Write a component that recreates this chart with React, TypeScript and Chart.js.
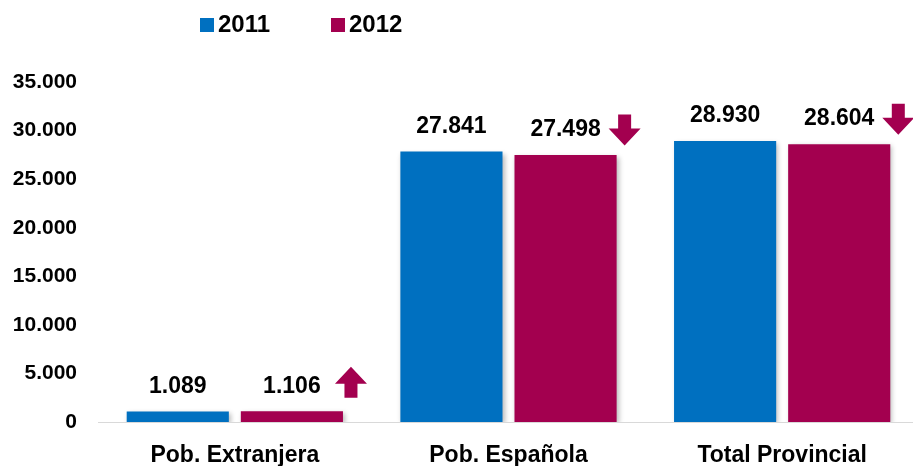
import React, { useEffect, useRef } from "react";
import { Chart, registerables } from "chart.js";

Chart.register(...registerables);

const categories = ["Pob. Extranjera", "Pob. Española", "Total Provincial"];
const series2011 = [1089, 27841, 28930];
const series2012 = [1106, 27498, 28604];
const trend2012 = ["up", "down", "down"];
const seriesNames = ["2011", "2012"];
const colors = ["#0070C0", "#A3004F"];

const FONT = "'Liberation Sans', Arial, sans-serif";

const fmt = (v: number) => String(Math.round(v)).replace(/\B(?=(\d{3})+(?!\d))/g, ".");

const extrasPlugin = {
  id: "extras",
  beforeDatasetsDraw(chart: any) {
    const ctx = chart.ctx;
    ctx.save();
    ctx.shadowColor = "rgba(0,0,0,0.28)";
    ctx.shadowBlur = 5;
    ctx.shadowOffsetX = 2;
    ctx.shadowOffsetY = 2;
  },
  afterDatasetsDraw(chart: any) {
    const ctx = chart.ctx;
    ctx.restore();
    ctx.save();
    ctx.font = `bold 23px ${FONT}`;
    ctx.fillStyle = "#000";
    ctx.textAlign = "center";
    ctx.textBaseline = "middle";
    chart.data.datasets.forEach((ds: any, di: number) => {
      const meta = chart.getDatasetMeta(di);
      meta.data.forEach((el: any, i: number) => {
        ctx.fillText(fmt(ds.data[i]), el.x, el.y - 25);
      });
    });
    // trend arrows beside 2012 bars
    const meta2 = chart.getDatasetMeta(1);
    ctx.fillStyle = colors[1];
    meta2.data.forEach((el: any, i: number) => {
      const cx = el.x + el.width / 2 + 8;
      const cy = el.y - 25;
      const H = 31, headH = 17, headW = 32, shaftW = 13;
      ctx.beginPath();
      if (trend2012[i] === "up") {
        const top = cy - H / 2 - 4;
        ctx.moveTo(cx, top);
        ctx.lineTo(cx + headW / 2, top + headH);
        ctx.lineTo(cx + shaftW / 2, top + headH);
        ctx.lineTo(cx + shaftW / 2, top + H);
        ctx.lineTo(cx - shaftW / 2, top + H);
        ctx.lineTo(cx - shaftW / 2, top + headH);
        ctx.lineTo(cx - headW / 2, top + headH);
      } else {
        const bot = cy + H / 2;
        ctx.moveTo(cx, bot);
        ctx.lineTo(cx + headW / 2, bot - headH);
        ctx.lineTo(cx + shaftW / 2, bot - headH);
        ctx.lineTo(cx + shaftW / 2, bot - H);
        ctx.lineTo(cx - shaftW / 2, bot - H);
        ctx.lineTo(cx - shaftW / 2, bot - headH);
        ctx.lineTo(cx - headW / 2, bot - headH);
      }
      ctx.closePath();
      ctx.fill();
    });
    ctx.restore();
  },
  afterDraw(chart: any) {
    const ctx = chart.ctx;
    ctx.save();
    ctx.font = `bold 24px ${FONT}`;
    ctx.textAlign = "left";
    ctx.textBaseline = "middle";
    const starts = [200, 331];
    chart.data.datasets.forEach((ds: any, di: number) => {
      const x = starts[di];
      ctx.fillStyle = ds.backgroundColor;
      ctx.fillRect(x, 18, 14, 14);
      ctx.fillStyle = "#000";
      ctx.fillText(ds.label, x + 18, 25);
    });
    ctx.restore();
  },
};

export default function App() {
  const ref = useRef<HTMLCanvasElement>(null);
  useEffect(() => {
    if (!ref.current) return;
    const chart = new Chart(ref.current, {
      type: "bar",
      data: {
        labels: categories,
        datasets: [
          { label: seriesNames[0], data: series2011, backgroundColor: colors[0] },
          { label: seriesNames[1], data: series2012, backgroundColor: colors[1] },
        ],
      },
      options: {
        responsive: false,
        animation: false,
        layout: { padding: { top: 82, left: 0, right: 0, bottom: 0 } },
        datasets: {
          bar: { categoryPercentage: 0.834, barPercentage: 0.895 },
        },
        plugins: {
          legend: { display: false },
          tooltip: { enabled: false },
        },
        scales: {
          x: {
            grid: { display: false, drawTicks: false },
            border: { display: true, color: "#d9d9d9", width: 1 },
            ticks: {
              color: "#000",
              font: { family: FONT, size: 23, weight: "bold" },
              padding: 20,
              maxRotation: 0,
              autoSkip: false,
            },
            afterFit: (s: any) => { s.height = 44; },
          },
          y: {
            min: 0,
            max: 35000,
            grid: { display: false, drawTicks: false },
            border: { display: false },
            ticks: {
              stepSize: 5000,
              color: "#000",
              font: { family: FONT, size: 21, weight: "bold" },
              padding: 21,
              callback: (v: any) => fmt(Number(v)),
            },
            afterFit: (s: any) => { s.width = 98; },
          },
        },
      },
      plugins: [extrasPlugin],
    });
    return () => chart.destroy();
  }, []);
  return (
    <div style={{ position: "fixed", left: 0, top: 0, width: 913, height: 466, overflow: "hidden", background: "#fff" }}>
      <canvas ref={ref} width={919} height={466} style={{ display: "block" }} />
    </div>
  );
}
